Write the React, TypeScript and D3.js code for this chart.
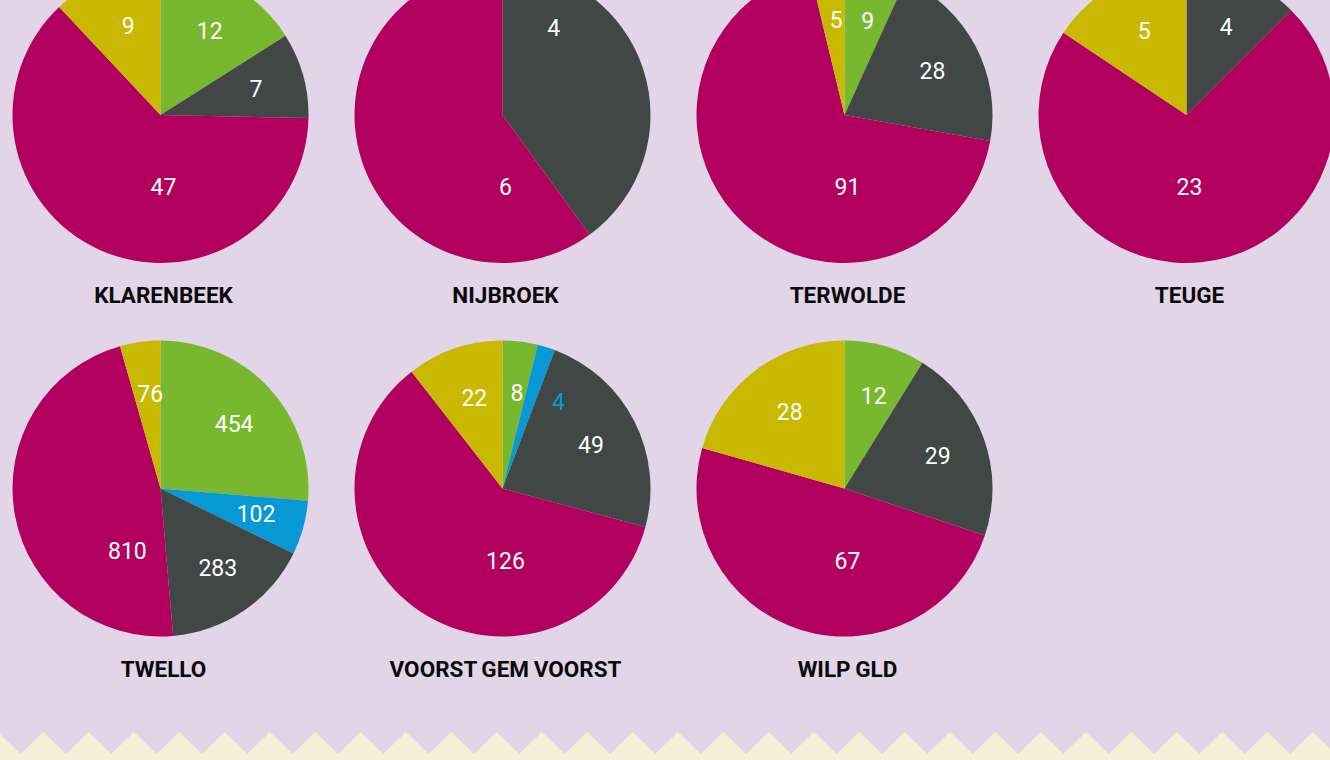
import React from "react";
import * as d3 from "d3";

// ---- data ----
const towns = [
  "KLARENBEEK",
  "NIJBROEK",
  "TERWOLDE",
  "TEUGE",
  "TWELLO",
  "VOORST GEM VOORST",
  "WILP GLD",
];
// series in clockwise order starting at 12 o'clock
const seriesKeys = ["green", "blue", "dark", "magenta", "yellow"];
const greenValues = [12, 0, 9, 0, 454, 8, 12];
const blueValues = [0, 0, 0, 0, 102, 4, 0];
const darkValues = [7, 4, 28, 4, 283, 49, 29];
const magentaValues = [47, 6, 91, 23, 810, 126, 67];
const yellowValues = [9, 0, 5, 5, 76, 22, 28];

const seriesValues: Record<string, number[]> = {
  green: greenValues,
  blue: blueValues,
  dark: darkValues,
  magenta: magentaValues,
  yellow: yellowValues,
};

const colors: Record<string, string> = {
  green: "#78b82e",
  blue: "#0799d6",
  dark: "#414745",
  magenta: "#b2005e",
  yellow: "#c9b800",
};

// ---- layout ----
const W = 1330;
const H = 760;
const R = 148;
const BG = "#e2d5e7";
const CREAM = "#f6efd7";
const NUM_FONT = "Roboto, 'Noto Sans', sans-serif";
const TXT_DX = 3;

type Slice = { key: string; value: number };

const colX = d3.scalePoint<number>().domain([0, 1, 2, 3]).range([160.5, 1186.5]);
const rowY = d3.scalePoint<number>().domain([0, 1]).range([115, 488.5]);

const pieGen = d3
  .pie<Slice>()
  .sort(null)
  .value((d) => d.value);
const arcGen = d3.arc<d3.PieArcDatum<Slice>>().innerRadius(0).outerRadius(R);

const deg = Math.PI / 180;

function labelFor(a: d3.PieArcDatum<Slice>, isMax: boolean) {
  const span = a.endAngle - a.startAngle;
  let ang = (a.startAngle + a.endAngle) / 2;
  let r = 96;
  let fill = "#ffffff";
  if (isMax) {
    const margin = 35 * deg;
    ang = Math.min(Math.max(Math.PI, a.startAngle + margin), a.endAngle - margin);
    r = 72;
  } else if (span > 120 * deg) {
    ang = a.startAngle + 0.2 * span;
    r = 100;
  } else if (span < 10 * deg) {
    ang += 14 * deg;
    r = 102;
    fill = colors[a.data.key];
  }
  return { x: Math.sin(ang) * r, y: -Math.cos(ang) * r, fill };
}

function Zigzag() {
  const P = 45.34;
  const peak0 = 43.3;
  const half = P / 2;
  const pts: [number, number][] = [];
  for (let k = -1; k <= Math.ceil(W / P) + 1; k++) {
    const px = peak0 + k * P;
    pts.push([px - half, 754]);
    pts.push([px, 732]);
  }
  const line = d3.line();
  const d = line(pts) + ` L${pts[pts.length - 1][0]},${H + 2} L${pts[0][0]},${H + 2} Z`;
  return <path d={d} fill={CREAM} />;
}

export default function App() {
  React.useEffect(() => {
    document.body.style.margin = "0";
    document.body.style.background = BG;
  }, []);

  return (
    <svg
      width={W}
      height={H}
      viewBox={`0 0 ${W} ${H}`}
      style={{ position: "absolute", left: 0, top: 0, display: "block" }}
    >
      <rect x={0} y={0} width={W} height={H} fill={BG} />
      {towns.map((town, i) => {
        const cx = colX(i % 4)!;
        const cy = rowY(Math.floor(i / 4))!;
        const data: Slice[] = seriesKeys.map((k) => ({ key: k, value: seriesValues[k][i] }));
        const arcs = pieGen(data);
        const maxVal = d3.max(data, (d) => d.value)!;
        return (
          <g key={town} transform={`translate(${cx},${cy})`}>
            {arcs
              .filter((a) => a.data.value > 0)
              .map((a) => (
                <path key={a.data.key} d={arcGen(a)!} fill={colors[a.data.key]} />
              ))}
            {arcs
              .filter((a) => a.data.value > 0)
              .map((a) => {
                const l = labelFor(a, a.data.value === maxVal);
                return (
                  <text
                    key={"t" + a.data.key}
                    x={l.x + TXT_DX}
                    y={l.y}
                    dy="0.36em"
                    textAnchor="middle"
                    fontFamily={NUM_FONT}
                    fontSize={23}
                    fill={l.fill}
                  >
                    {a.data.value}
                  </text>
                );
              })}
            <text
              x={TXT_DX}
              y={R + 40}
              textAnchor="middle"
              fontFamily={NUM_FONT}
              fontWeight="bold"
              fontSize={22.5}
              wordSpacing={-1}
              fill="#0a0a0a"
            >
              {town}
            </text>
          </g>
        );
      })}
      <Zigzag />
    </svg>
  );
}
